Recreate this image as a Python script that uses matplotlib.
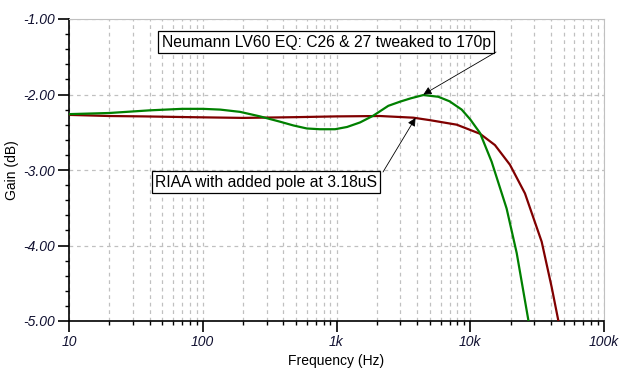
import matplotlib
matplotlib.use("Agg")
import matplotlib.pyplot as plt
import matplotlib.ticker as tik
import numpy as np

# data
neu_freq = [10, 20, 40, 70, 100, 135, 190, 268, 378, 476, 600, 750, 975, 1200,
            1500, 1885, 2440, 2985, 3600, 4460, 5770, 7000, 8630, 10000, 11830,
            14450, 18700, 22250, 27200]
neu_gain = [-2.26, -2.245, -2.21, -2.19, -2.19, -2.20, -2.23, -2.29, -2.36, -2.41,
            -2.45, -2.46, -2.46, -2.43, -2.37, -2.28, -2.15, -2.095, -2.05, -2.007,
            -2.03, -2.09, -2.20, -2.33, -2.51, -2.89, -3.51, -4.10, -4.99]

riaa_freq = [10, 20, 36, 80, 200, 500, 1000, 2113, 3750, 5000, 7930, 11830,
             15300, 19800, 25650, 34200, 40600, 45500]
riaa_gain = [-2.27, -2.285, -2.29, -2.30, -2.31, -2.30, -2.29, -2.285, -2.307,
             -2.34, -2.40, -2.52, -2.67, -2.93, -3.31, -3.95, -4.55, -4.99]

xtick_vals = [10, 100, 1000, 10000, 100000]
xtick_labels = ["10", "100", "1k", "10k", "100k"]
ytick_vals = [-1, -2, -3, -4, -5]

plt.rcParams['font.family'] = ['Liberation Sans', 'DejaVu Sans']

fig = plt.figure(figsize=(6.3, 3.82), dpi=100)
ax = fig.add_axes([69/630, 1-321/382, (604-69)/630, (321-19)/382])

ax.plot(riaa_freq, riaa_gain, color="#800000", lw=1.6, zorder=3)
ax.plot(neu_freq, neu_gain, color="#008000", lw=1.6, zorder=4)

ax.set_xscale("log")
ax.set_xlim(10, 100000)
ax.set_ylim(-5, -1)

ax.set_xticks(xtick_vals)
ax.set_xticklabels(xtick_labels)
ax.xaxis.set_minor_locator(tik.LogLocator(base=10, subs=np.arange(2, 10)))
ax.xaxis.set_minor_formatter(tik.NullFormatter())
ax.set_yticks(ytick_vals)
ax.yaxis.set_major_formatter(tik.FormatStrFormatter("%.2f"))
ax.yaxis.set_minor_locator(tik.MultipleLocator(0.2))

for lab in ax.get_xticklabels() + ax.get_yticklabels():
    lab.set_fontstyle("italic")
    lab.set_fontsize(10)
    lab.set_color("#101030")

ax.tick_params(axis="both", which="major", direction="out", length=8, width=1.2, pad=2)
ax.tick_params(axis="both", which="minor", direction="out", length=3, width=1)

ax.grid(True, which="major", color="#c0c0c0", linestyle=(0, (3, 3)), lw=0.9)
ax.grid(True, which="minor", axis="x", color="#c0c0c0", linestyle=(0, (3, 3)), lw=0.9)
ax.set_axisbelow(True)

ax.spines["top"].set_color("#c0c0c0")
ax.spines["right"].set_color("#c0c0c0")
ax.spines["left"].set_linewidth(1.2)
ax.spines["bottom"].set_linewidth(1.2)

ax.set_xlabel("Frequency (Hz)", fontsize=10, labelpad=4)
ax.set_ylabel("Gain (dB)", fontsize=10)
ax.yaxis.set_label_coords(-(69-19)/535, 0.5)

box = dict(boxstyle="square,pad=0.2", fc="white", ec="black", lw=0.9)
arrow = dict(arrowstyle="-|>", color="black", lw=0.6, mutation_scale=12,
             shrinkA=0, shrinkB=0)

# labels
fig.text(326/630, 1-42/382, "Neumann LV60 EQ: C26 & 27 tweaked to 170p",
         ha="center", va="center", fontsize=11.3, bbox=box, zorder=6)
fig.text(266/630, 1-182/382, "RIAA with added pole at 3.18uS",
         ha="center", va="center", fontsize=11.3, bbox=box, zorder=6)

# arrows from box corners to the curves
ax.annotate("", xy=(4460, -2.0), xytext=(496/630, 1-52/382),
            textcoords="figure fraction", arrowprops=arrow, zorder=6)
ax.annotate("", xy=(3900, -2.31), xytext=(383/630, 1-172/382),
            textcoords="figure fraction", arrowprops=arrow, zorder=6)

plt.savefig("out.png", dpi=100)
